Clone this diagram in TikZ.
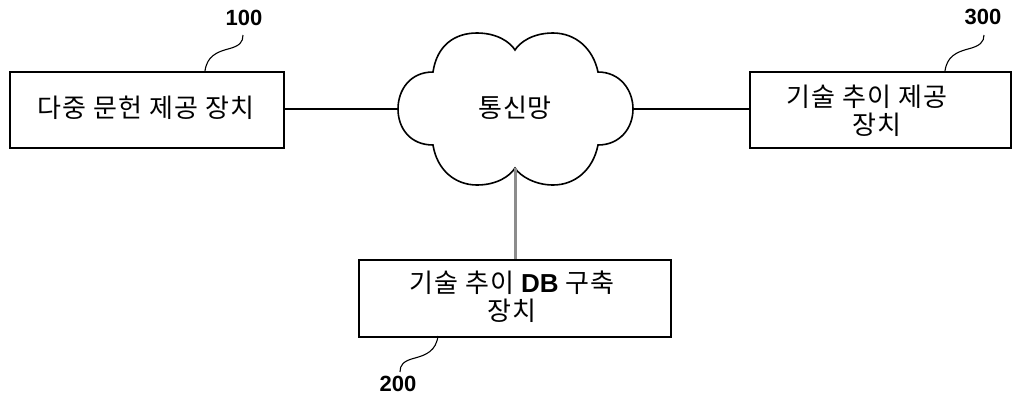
\documentclass[tikz,border=0pt]{standalone}
\usepackage{fontspec}
\setmainfont{Liberation Sans}
\newfontfamily\kr[LetterSpace=4]{Noto Sans CJK KR}
\begin{document}
\begin{tikzpicture}[x=1pt,y=-1pt,
  devbox/.style={draw=black,line width=2pt,fill=white,inner sep=0pt},
  boxtext/.style={font=\kr\fontsize{26}{28}\selectfont,align=center},
  refnum/.style={font=\bfseries\fontsize{22}{24}\selectfont,inner sep=0pt},
  leader/.style={draw=black,line width=1.1pt},
  link/.style={draw=black,line width=1.2pt},
  uplink/.style={draw=black!45,line width=3pt}]
\useasboundingbox (0,0) rectangle (1012,405);

% device boxes
\node[devbox,minimum width=274pt,minimum height=76pt,anchor=north west] (b100) at (9,71) {};
\node[boxtext] (t100) at (146,108) {다중 문헌 제공 장치};

\node[devbox,minimum width=261pt,minimum height=76pt,anchor=north west] (b300) at (749,71) {};
\node[boxtext] (t300) at (867,111) {기술 추이 제공\\\hspace*{20pt}장치};

\node[devbox,minimum width=312pt,minimum height=77pt,anchor=north west] (b200) at (358,259) {};
\node[boxtext] (t200) at (512,297) {기술 추이 {\normalfont\bfseries DB} 구축\\장치};

% network cloud
\coordinate (cl) at (398,109);
\coordinate (cr) at (633,109);
\coordinate (cb) at (515,168);
\draw[line width=1.6pt,fill=white]
  (433,72) .. controls (437,45) and (455,33) .. (477,33)
           .. controls (497,33) and (510,42) .. (515,50)
           .. controls (520,42) and (533,33) .. (553,33)
           .. controls (575,33) and (593,48) .. (598,72)
           .. controls (620,72) and (633,90) .. (cr)
           .. controls (633,128) and (620,145) .. (598,145)
           .. controls (593,170) and (575,185) .. (553,185)
           .. controls (535,185) and (520,176) .. (cb)
           .. controls (510,176) and (497,185) .. (477,185)
           .. controls (455,185) and (437,170) .. (433,145)
           .. controls (410,145) and (398,128) .. (cl)
           .. controls (398,90) and (410,72) .. cycle;
\node[font=\kr\fontsize{26}{28}\selectfont] (net) at (515,108) {통신망};

% connections
\draw[link] (b100.east |- cl) -- (cl);
\draw[link] (cr) -- (b300.west |- cr);
\draw[uplink] (cb) -- (b200.north -| cb);

% reference numerals with leader lines
\node[refnum] (n100) at (244,18) {100};
\node[refnum] (n300) at (983,17) {300};
\node[refnum] (n200) at (398,384) {200};

\coordinate (a100) at (205,71);
\coordinate (e100) at (243,35);
\draw[leader] (a100) .. controls (207,56) and (217,52) .. (228,49)
                     .. controls (240,46) and (243,42) .. (e100);
\coordinate (a300) at (945,71);
\coordinate (e300) at (984,35);
\draw[leader] (a300) .. controls (947,56) and (957,52) .. (968,49)
                     .. controls (980,46) and (984,42) .. (e300);
\coordinate (a200) at (438,336);
\coordinate (e200) at (400,372);
\draw[leader] (a200) .. controls (436,351) and (426,355) .. (415,358)
                     .. controls (403,361) and (400,365) .. (e200);
\end{tikzpicture}
\end{document}
